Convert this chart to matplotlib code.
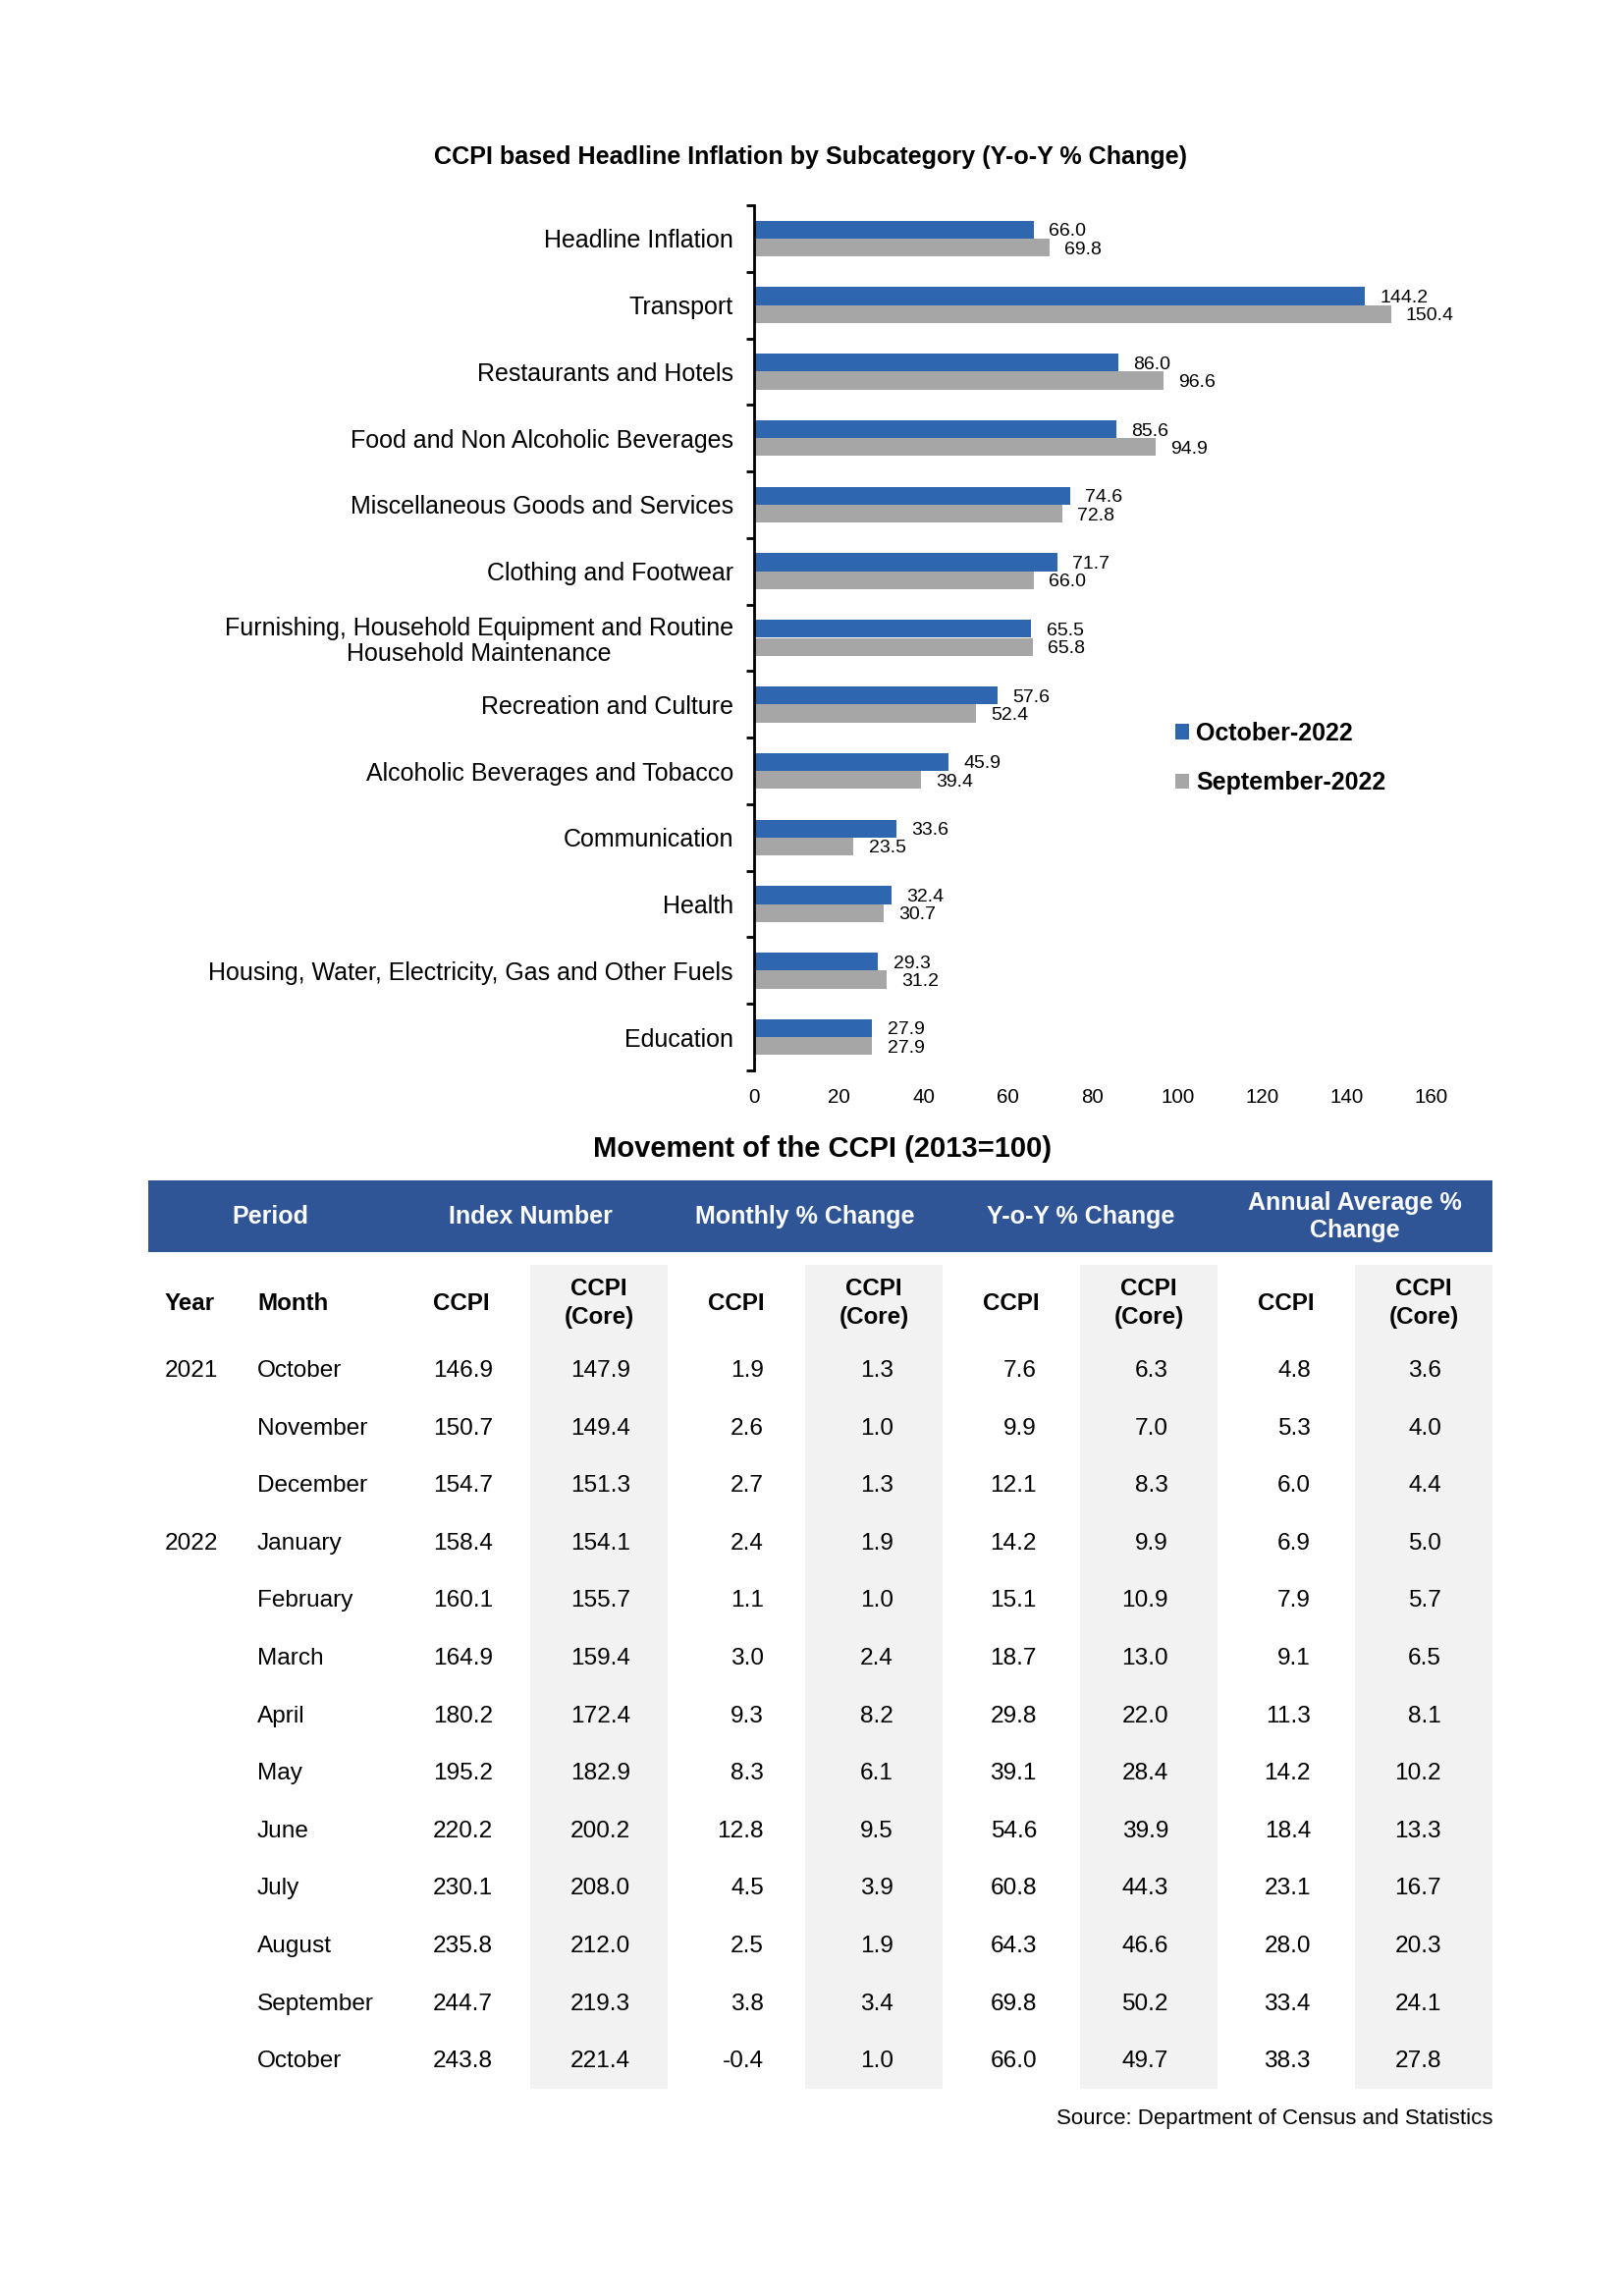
import matplotlib
matplotlib.use("Agg")
import matplotlib.pyplot as plt
from matplotlib.patches import Rectangle

plt.rcParams['font.family'] = ['Liberation Sans', 'DejaVu Sans']

# Chart data
categories = [
    "Headline Inflation",
    "Transport",
    "Restaurants and Hotels",
    "Food and Non Alcoholic Beverages",
    "Miscellaneous Goods and Services",
    "Clothing and Footwear",
    "Furnishing, Household Equipment and Routine\nHousehold Maintenance",
    "Recreation and Culture",
    "Alcoholic Beverages and Tobacco",
    "Communication",
    "Health",
    "Housing, Water, Electricity, Gas and Other Fuels",
    "Education",
]
oct_2022 = [66.0, 144.2, 86.0, 85.6, 74.6, 71.7, 65.5, 57.6, 45.9, 33.6, 32.4, 29.3, 27.9]
sep_2022 = [69.8, 150.4, 96.6, 94.9, 72.8, 66.0, 65.8, 52.4, 39.4, 23.5, 30.7, 31.2, 27.9]
x_ticks = [0, 20, 40, 60, 80, 100, 120, 140, 160]

# Table data
group_headers = ["Period", "Index Number", "Monthly % Change", "Y-o-Y % Change",
                 "Annual Average %\nChange"]
years = ["2021", "", "", "2022", "", "", "", "", "", "", "", "", ""]
months = ["October", "November", "December", "January", "February", "March", "April",
          "May", "June", "July", "August", "September", "October"]
ccpi = [146.9, 150.7, 154.7, 158.4, 160.1, 164.9, 180.2, 195.2, 220.2, 230.1, 235.8, 244.7, 243.8]
ccpi_core = [147.9, 149.4, 151.3, 154.1, 155.7, 159.4, 172.4, 182.9, 200.2, 208.0, 212.0, 219.3, 221.4]
mom = [1.9, 2.6, 2.7, 2.4, 1.1, 3.0, 9.3, 8.3, 12.8, 4.5, 2.5, 3.8, -0.4]
mom_core = [1.3, 1.0, 1.3, 1.9, 1.0, 2.4, 8.2, 6.1, 9.5, 3.9, 1.9, 3.4, 1.0]
yoy = [7.6, 9.9, 12.1, 14.2, 15.1, 18.7, 29.8, 39.1, 54.6, 60.8, 64.3, 69.8, 66.0]
yoy_core = [6.3, 7.0, 8.3, 9.9, 10.9, 13.0, 22.0, 28.4, 39.9, 44.3, 46.6, 50.2, 49.7]
ann = [4.8, 5.3, 6.0, 6.9, 7.9, 9.1, 11.3, 14.2, 18.4, 23.1, 28.0, 33.4, 38.3]
ann_core = [3.6, 4.0, 4.4, 5.0, 5.7, 6.5, 8.1, 10.2, 13.3, 16.7, 20.3, 24.1, 27.8]

BLUE = "#2E67B0"
GREY = "#A6A6A6"
HEADER = "#2F5597"
BAND = "#F2F2F2"

W, H = 1654, 2338
fig = plt.figure(figsize=(W / 200, H / 200), dpi=200)

# page overlay in pixel units (titles, table)
page = fig.add_axes([0, 0, 1, 1])
page.set_xlim(0, W)
page.set_ylim(H, 0)
page.axis("off")

# ---- bar chart ----
ax_l, ax_r, ax_t, ax_b = 768, 1458, 209, 1090
ax = fig.add_axes([ax_l / W, 1 - ax_b / H, (ax_r - ax_l) / W, (ax_b - ax_t) / H])
ax.set_facecolor("none")

n = len(categories)
pos = list(range(n))
bh = 0.27
b1 = ax.barh([p - bh / 2 for p in pos], oct_2022, height=bh, color=BLUE, label="October-2022")
b2 = ax.barh([p + bh / 2 for p in pos], sep_2022, height=bh, color=GREY, label="September-2022")
t1 = ax.bar_label(b1, labels=[f"{v:.1f}" for v in oct_2022], padding=5.5, fontsize=7)
t2 = ax.bar_label(b2, labels=[f"{v:.1f}" for v in sep_2022], padding=5.5, fontsize=7)
for t in t1 + t2:
    t.set_va("center_baseline")

ax.set_ylim(n - 0.5, -0.5)
ax.set_xlim(0, 160)
ax.set_yticks(pos)
ax.set_yticklabels(categories, fontsize=9, linespacing=1.1)
for lbl in ax.get_yticklabels():
    lbl.set_multialignment("center")
ax.set_yticks([p - 0.5 for p in range(n + 1)], minor=True)
ax.tick_params(axis="y", which="major", length=0, pad=7.6)
ax.tick_params(axis="y", which="minor", length=2.8, width=1, direction="out")
ax.set_xticks(x_ticks)
ax.tick_params(axis="x", length=0, labelsize=7.4, pad=6.5)
for s in ["top", "right", "bottom"]:
    ax.spines[s].set_visible(False)
ax.spines["left"].set_linewidth(1)

leg = ax.legend(handles=[b1, b2], loc="center left", bbox_to_anchor=(1197, 772),
                bbox_transform=page.transData, frameon=False, borderpad=0,
                borderaxespad=0, handlelength=0.56, handleheight=0.56,
                handletextpad=0.28, labelspacing=1.05,
                prop={"weight": "bold", "size": 9})

page.text(825, 160, "CCPI based Headline Inflation by Subcategory (Y-o-Y % Change)",
          ha="center", va="center", fontsize=9.05, fontweight="bold")

# ---- table ----
page.text(838, 1170, "Movement of the CCPI (2013=100)", ha="center", va="center",
          fontsize=10.5, fontweight="bold")

tbl_left, tbl_right = 151, 1520
hdr_top, hdr_bot = 1202, 1275
page.add_patch(Rectangle((tbl_left, hdr_top), tbl_right - tbl_left, hdr_bot - hdr_top,
                         color=HEADER, lw=0))
group_centers = [275, 540, 820, 1101, 1380]
for gx, g in zip(group_centers, group_headers):
    page.text(gx, 1239, g, ha="center", va="center", color="white",
              fontsize=9, fontweight="bold", linespacing=1.25)

band_top, band_bot = 1288, 2127
core_left = [540, 820, 1100, 1380]
for cl in core_left:
    page.add_patch(Rectangle((cl, band_top), 140, band_bot - band_top, color=BAND, lw=0))

sub_y = 1327
page.text(168, sub_y, "Year", ha="left", va="center", fontsize=8.7, fontweight="bold")
page.text(262, sub_y, "Month", ha="left", va="center", fontsize=8.7, fontweight="bold")
for cl in core_left:
    page.text(cl - 70, sub_y, "CCPI", ha="center", va="center", fontsize=8.7,
              fontweight="bold")
    page.text(cl + 70, sub_y, "CCPI\n(Core)", ha="center", va="center", fontsize=8.7,
              fontweight="bold", linespacing=1.28)

row0, row_step = 1396, 58.6
columns = [ccpi, ccpi_core, mom, mom_core, yoy, yoy_core, ann, ann_core]
col_right = [502, 642, 778, 910, 1056, 1190, 1335, 1468]
for i in range(len(months)):
    y = row0 + i * row_step
    page.text(168, y, years[i], ha="left", va="center", fontsize=8.8)
    page.text(262, y, months[i], ha="left", va="center", fontsize=8.8)
    for xr, col in zip(col_right, columns):
        page.text(xr, y, f"{col[i]:.1f}", ha="right", va="center", fontsize=8.8)

page.text(1520, 2158, "Source: Department of Census and Statistics", ha="right",
          va="center", fontsize=8)

fig.savefig("out.png", dpi=200)
